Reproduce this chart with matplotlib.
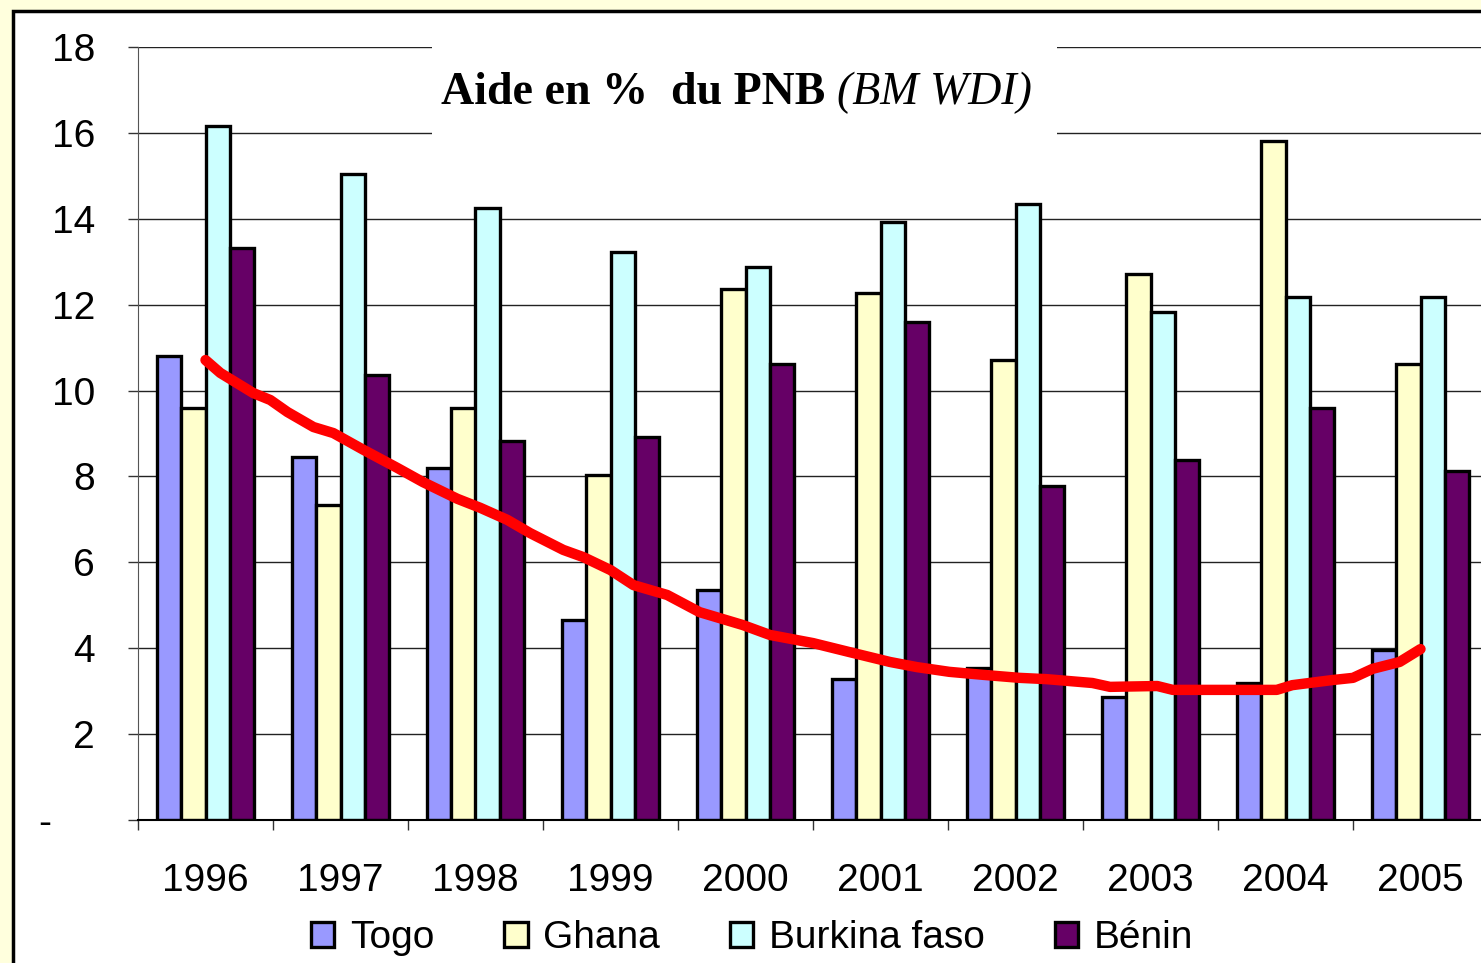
import matplotlib
matplotlib.use("Agg")
import matplotlib.pyplot as plt
from matplotlib.patches import Rectangle
import numpy as np

plt.rcParams['font.family'] = ['Liberation Sans', 'DejaVu Sans']

years = ['1996', '1997', '1998', '1999', '2000', '2001', '2002', '2003', '2004', '2005']
togo = [10.8, 8.45, 8.2, 4.66, 5.36, 3.28, 3.54, 2.86, 3.19, 3.96]
ghana = [9.6, 7.34, 9.6, 8.03, 12.37, 12.27, 10.71, 12.72, 15.81, 10.62]
burkina = [16.16, 15.04, 14.25, 13.23, 12.88, 13.93, 14.35, 11.83, 12.18, 12.18]
benin = [13.32, 10.36, 8.83, 8.92, 10.62, 11.6, 7.78, 8.38, 9.6, 8.13]

# tendance tracee a la main, x en position de categorie
trend_x = [0, 0.11, 0.355, 0.48, 0.607, 0.80, 0.947, 1.17, 1.42, 1.61, 1.865, 2.035,
           2.235, 2.405, 2.65, 2.80, 3.0, 3.17, 3.42, 3.66, 3.98, 4.18, 4.50, 4.77,
           5.07, 5.27, 5.51, 5.76, 6.03, 6.23, 6.57, 6.70, 7.05, 7.165, 7.935, 8.05,
           8.35, 8.50, 8.645, 8.845, 9.0]
trend_y = [10.71, 10.41, 9.94, 9.78, 9.50, 9.15, 9.01, 8.62, 8.20, 7.87, 7.48, 7.27,
           6.99, 6.68, 6.29, 6.12, 5.82, 5.47, 5.24, 4.84, 4.54, 4.31, 4.12, 3.91,
           3.68, 3.56, 3.45, 3.38, 3.31, 3.28, 3.19, 3.10, 3.12, 3.03, 3.03, 3.14,
           3.26, 3.31, 3.52, 3.68, 3.98]

series = [('Togo', togo, '#9999FF'), ('Ghana', ghana, '#FFFFCC'),
          ('Burkina faso', burkina, '#CCFFFF'), ('Bénin', benin, '#660066')]

W, H = 1481, 963
fig = plt.figure(figsize=(W / 100, H / 100), dpi=100, facecolor='#FFFFDD')

# cadre noir (deborde a droite et en bas)
fig.patches.append(Rectangle((13 / W, -0.05), 1.1, 1 - 11 / H + 0.05,
                             transform=fig.transFigure, fc='white', ec='black', lw=2.5, zorder=-5))

ax = fig.add_axes([138 / W, 1 - 820 / H, (1488 - 138) / W, (820 - 47) / H])
ax.set_facecolor('white')
ax.set_zorder(1)

x = np.arange(len(years))
w = 0.18
for i, (name, vals, col) in enumerate(series):
    ax.bar(x + (i - 1.5) * w, vals, w, color=col, edgecolor='black', linewidth=2.4,
           label=name, zorder=2)

ax.plot(trend_x, trend_y, color='#FF0000', lw=7.5, solid_capstyle='round',
        solid_joinstyle='round', zorder=5)

ax.set_ylim(0, 18)
ax.set_xlim(-0.5, 9.5)
ax.set_yticks(range(0, 19, 2))
ax.set_yticklabels(['-    '] + [str(v) for v in range(2, 19, 2)], fontsize=28)
ax.tick_params(axis='y', direction='out', length=7, width=1, color='#333333', pad=24)

ax.set_xticks(np.arange(-0.5, 10, 1))
ax.set_xticklabels([])
ax.set_xticks(x, minor=True)
ax.set_xticklabels(years, minor=True, fontsize=28)
ax.tick_params(axis='x', which='major', direction='out', length=7, width=1, color='#333333')
ax.tick_params(axis='x', which='minor', length=0, pad=31)

ax.yaxis.grid(True, color='#222222', lw=1)
ax.set_axisbelow(True)
for s in ['top', 'right']:
    ax.spines[s].set_visible(False)
ax.spines['left'].set_color('#555555')
ax.spines['bottom'].set_color('black')
ax.spines['bottom'].set_linewidth(1.5)

# titre dans un cartouche blanc
ax.add_patch(Rectangle((432 / W, 1 - 140 / H), 625 / W, 100 / H, transform=fig.transFigure,
                       fc='white', ec='none', zorder=3, clip_on=False))
t1 = ax.text(441 / W, 1 - 93 / H, 'Aide en %  du PNB', fontsize=33, fontweight='bold',
             family='Liberation Serif', ha='left', va='center', zorder=4,
             transform=fig.transFigure)
fig.canvas.draw()
bb = t1.get_window_extent()
ax.text(bb.x1 / W + 12 / W, 1 - 93 / H, '(BM WDI)', fontsize=33, fontstyle='italic',
        family='Liberation Serif', ha='left', va='center', zorder=4,
        transform=fig.transFigure)

fig.legend(loc='center', bbox_to_anchor=(752 / W, 1 - 938 / H), ncol=4, frameon=False,
           fontsize=28, handlelength=0.6, handleheight=0.6, handletextpad=0.4,
           columnspacing=1.8, borderaxespad=0, borderpad=0)

fig.savefig('out.png', dpi=100, facecolor=fig.get_facecolor())
